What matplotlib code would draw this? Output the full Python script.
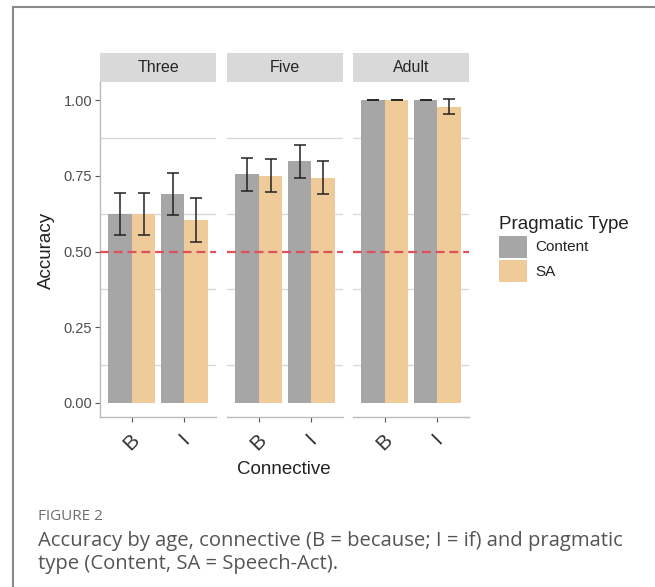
import numpy as np
import matplotlib
matplotlib.use('Agg')
from matplotlib import pyplot as plt
from matplotlib.patches import Rectangle, Patch
from matplotlib.lines import Line2D

plt.rcParams['font.family']=['Liberation Sans','DejaVu Sans']

# values
ages=['Three','Five','Adult']
connectives=['B','I']
ptypes=['Content','SA']
content_acc=[[0.625,0.690],[0.755,0.798],[1.000,1.000]]
sa_acc=[[0.625,0.605],[0.751,0.744],[1.000,0.979]]
content_err=[[0.070,0.070],[0.053,0.055],[0.000,0.000]]
sa_err=[[0.070,0.073],[0.054,0.054],[0.000,0.025]]
chance=0.5
yticks=[0.0,0.25,0.5,0.75,1.0]
minor_grid=[0.125,0.375,0.625,0.875]

clr={'Content':'#A6A6A6','SA':'#EFCB99'}
W,H=655,587
fig=plt.figure(figsize=(W/100,H/100),dpi=100)

def fx(x): return x/W
def fy(y): return 1-y/H

# outer frame of the figure box
fig.add_artist(Line2D([fx(12.5),fx(12.5)],[0,fy(7)],color='#8A8A8A',lw=1.5))
fig.add_artist(Line2D([fx(12.5),1],[fy(7),fy(7)],color='#8A8A8A',lw=1.5))

panel_left=[100,227,353]
pw,ptop,pbot=116,82,417
bw=0.45
x=np.arange(1,len(connectives)+1)
for i,age in enumerate(ages):
    ax=fig.add_axes([fx(panel_left[i]),fy(pbot),pw/W,(pbot-ptop)/H])
    for g in minor_grid:
        ax.axhline(g,color='#D8D8D8',lw=1.0,zorder=0)
    ax.bar(x-bw/2,content_acc[i],bw,color=clr['Content'],zorder=2)
    ax.bar(x+bw/2,sa_acc[i],bw,color=clr['SA'],zorder=2)
    ax.errorbar(x-bw/2,content_acc[i],yerr=content_err[i],fmt='none',ecolor='#222222',elinewidth=1.1,capsize=4.5,capthick=1.1,zorder=4)
    ax.errorbar(x+bw/2,sa_acc[i],yerr=sa_err[i],fmt='none',ecolor='#222222',elinewidth=1.1,capsize=4.5,capthick=1.1,zorder=4)
    ax.axhline(chance,color='#E0505A',lw=1.6,dashes=(4,2.2),zorder=5)
    ax.set_xlim(0.4,2.6)
    ax.set_ylim(-0.0463,1.0605)
    ax.set_xticks(x)
    ax.set_xticklabels(connectives,rotation=45,fontsize=15,color='#333333',ha='center',va='top')
    ax.tick_params(axis='x',length=3.5,width=0.8,color='#555555',pad=6)
    for s in ['top','right']:
        ax.spines[s].set_visible(False)
    ax.spines['bottom'].set_color('#BBBBBB')
    ax.spines['bottom'].set_linewidth(1.0)
    if i==0:
        ax.set_yticks(yticks)
        ax.set_yticklabels(['%.2f'%v for v in yticks],fontsize=10.5,color='#4D4D4D')
        ax.tick_params(axis='y',length=3.5,width=0.8,color='#555555',pad=2)
        ax.spines['left'].set_color('#BBBBBB')
        ax.spines['left'].set_linewidth(1.0)
    else:
        ax.set_yticks([])
        ax.spines['left'].set_visible(False)
    # facet strip
    sh=29/(pbot-ptop)
    ax.add_patch(Rectangle((0,1),1,sh,transform=ax.transAxes,color='#D9D9D9',clip_on=False,lw=0))
    ax.text(0.5,1+sh/2,age,transform=ax.transAxes,ha='center',va='center',fontsize=11.5,color='#262626')

fig.text(fx(46),fy(250),'Accuracy',rotation=90,ha='center',va='center',fontsize=13.5,color='#222222')
fig.text(fx(284),fy(470),'Connective',ha='center',va='center',fontsize=13.5,color='#222222')

handles=[Patch(facecolor=clr[t],edgecolor='none') for t in ptypes]
leg=fig.legend(handles,ptypes,loc='upper left',bbox_to_anchor=(fx(487),fy(204)),frameon=False,
               title='Pragmatic Type',title_fontsize=13.5,fontsize=11,handlelength=1.85,handleheight=1.85,
               labelspacing=0.15,handletextpad=0.5,borderpad=0.3)
leg._legend_box.align='left'
for t in leg.get_texts():
    t.set_color('#222222')
leg.get_title().set_color('#222222')

fig.text(fx(38),fy(517),'FIGURE 2',fontsize=11,color='#6E6E6E',va='center',family=['Open Sans','DejaVu Sans'])
fig.text(fx(38),fy(541),'Accuracy by age, connective (B = because; I = if) and pragmatic',fontsize=14.6,color='#555555',va='center',family=['Open Sans','DejaVu Sans'])
fig.text(fx(38),fy(564),'type (Content, SA = Speech-Act).',fontsize=14.6,color='#555555',va='center',family=['Open Sans','DejaVu Sans'])

plt.savefig('out.png',dpi=100)
